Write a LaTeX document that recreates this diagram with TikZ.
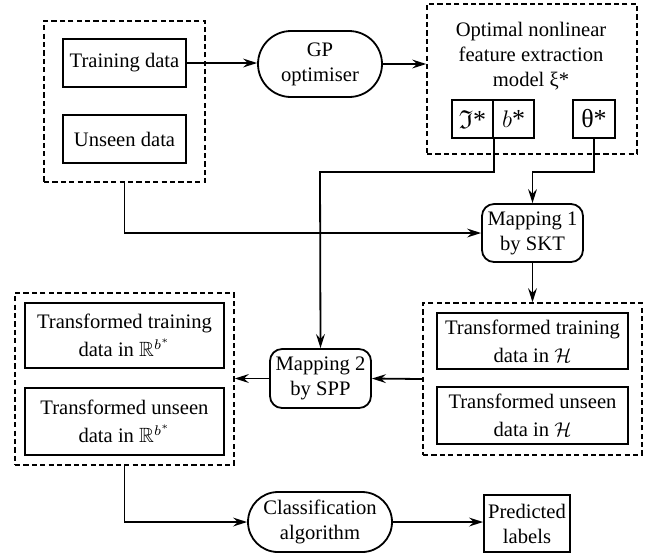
\documentclass[tikz,border=0pt]{standalone}
\usepackage{amssymb}
\usepackage{fontspec}
\setmainfont{Liberation Serif}
\usetikzlibrary{arrows.meta}
\begin{document}
\begin{tikzpicture}[x=0.5pt,y=-0.5pt,
  every node/.style={font=\fontsize{10.3}{12.5}\selectfont, inner sep=0pt, align=center},
  tallfont/.style={font=\fontsize{10.3}{14}\selectfont},
  bigfont/.style={font=\fontsize{13}{15}\selectfont},
  solidbox/.style={draw, line width=0.9pt},
  dashbox/.style={draw, line width=0.75pt, dash pattern=on 2.6pt off 1.6pt},
  stadium/.style={draw, line width=0.9pt, rounded corners=16.5pt},
  roundbox/.style={draw, line width=0.9pt, rounded corners=6pt},
  conn/.style={line width=0.9pt},
  arr/.style={conn, -{Stealth[length=7pt,width=4.4pt,inset=2.4pt]}}]
\useasboundingbox (0,0) rectangle (651,554);

% left input group
\node[dashbox, minimum width=80.5pt, minimum height=80.5pt] (inp) at (124.5,101.5) {};
\node[solidbox, minimum width=61.5pt, minimum height=24pt] (train) at (124.5,63) {Training data};
\node[solidbox, minimum width=61.5pt, minimum height=24pt] (unseen) at (124.5,139) {Unseen data};

% GP optimiser
\node[stadium, minimum width=62pt, minimum height=33pt] (gp) at (320,64) {GP\\optimiser};

% model group
\node[dashbox, minimum width=105pt, minimum height=75pt] (model) at (532,79) {};
\node (mtext) at (531,56) {Optimal nonlinear\\feature extraction\\model ξ*};
\node[solidbox, bigfont, minimum width=20.5pt, minimum height=19pt] (Im) at (472.5,119) {$\mathfrak{I}$*};
\node[solidbox, bigfont, minimum width=20.5pt, minimum height=19pt] (bb) at (513.5,119) {$b$*};
\node[solidbox, bigfont, minimum width=21pt, minimum height=19pt] (th) at (594,119) {θ*};

% mapping 1
\node[roundbox, minimum width=50.5pt, minimum height=29pt] (map1) at (532.5,233) {Mapping 1\\by SKT};

% right group (H)
\node[dashbox, minimum width=109.5pt, minimum height=76pt] (hgrp) at (532.5,379) {};
\node[solidbox, tallfont, minimum width=95.5pt, minimum height=28pt] (trH) at (532.5,341) {Transformed training\\data in $\mathcal{H}$};
\node[solidbox, tallfont, minimum width=95.5pt, minimum height=28.5pt] (unH) at (532.5,415.5) {Transformed unseen\\data in $\mathcal{H}$};

% mapping 2
\node[roundbox, minimum width=50.5pt, minimum height=29.5pt] (map2) at (320.5,378.5) {Mapping 2\\by SPP};

% left group (R)
\node[dashbox, minimum width=109.5pt, minimum height=86pt] (rgrp) at (124.5,379) {};
\node[solidbox, tallfont, minimum width=99.5pt, minimum height=32.5pt] (trR) at (124.5,335.5) {Transformed training\\data in $\mathbb{R}^{b^*}$};
\node[solidbox, tallfont, minimum width=99.5pt, minimum height=33.5pt] (unR) at (124.5,421.5) {Transformed unseen\\data in $\mathbb{R}^{b^*}$};

% classification and output
\node[stadium, minimum width=72pt, minimum height=30pt, rounded corners=15pt] (cls) at (320,522) {Classification\\algorithm};
\node[solidbox, minimum width=43pt, minimum height=28.5pt] (pred) at (527,523.5) {Predicted\\labels};

% connectors
\coordinate (k1) at (320,172);
\coordinate (k2) at (532.5,172);
\draw[arr] (train.east) -- (gp.west |- train.east);
\draw[arr] (gp.east) -- (gp.east -| model.west);
\draw[arr] (Im.south east) |- (k1) -- (map2.north);
\draw[arr] (th.south) |- (k2) -- (map1.north);
\draw[arr] (inp.south) |- (map1.west);
\draw[arr] (map1.south) -- (hgrp.north);
\draw[arr] (hgrp.west) -- (map2.east);
\draw[arr] (map2.west) -- (map2.west -| rgrp.east);
\draw[arr] (rgrp.south) |- (cls.west);
\draw[arr] (cls.east) -- (cls.east -| pred.west);
\end{tikzpicture}
\end{document}
